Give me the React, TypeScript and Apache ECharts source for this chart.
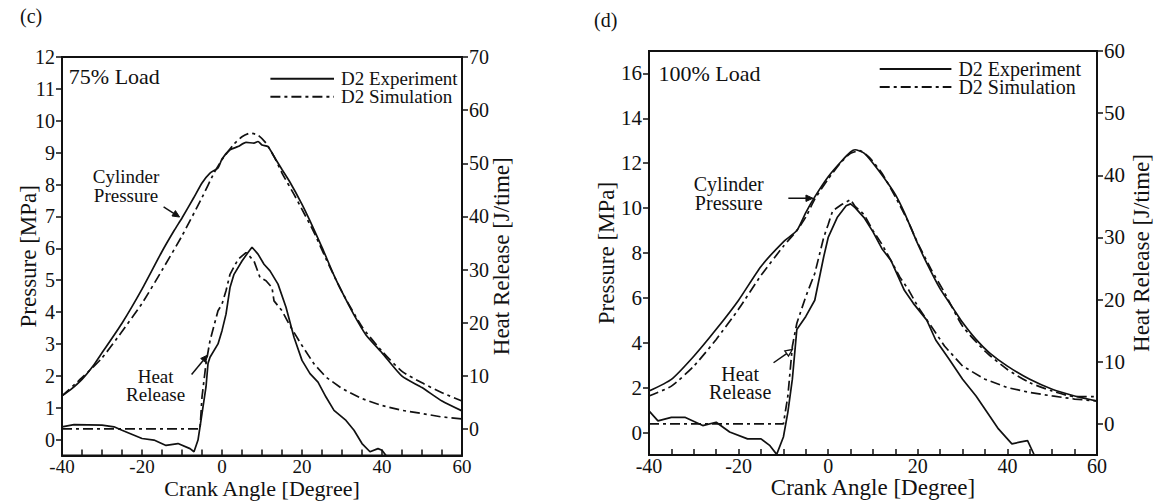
import React, { useEffect, useRef } from "react";
import * as echarts from "echarts";

// ---------- Data (crank angle [deg], value) ----------
// Panel (c) 75% Load — pressure [MPa] (left axis), heat release [J/time] (right axis)
const cPressureExp: number[][] = [
  [-40, 1.37], [-38, 1.55], [-35, 1.89], [-32, 2.35], [-30, 2.72], [-25, 3.65], [-20, 4.72],
  [-15, 5.9], [-12, 6.55], [-10, 6.95], [-7, 7.6], [-5, 8.05], [-3, 8.36], [-1, 8.52], [0, 8.8],
  [2, 9.09], [4, 9.19], [6, 9.32], [8, 9.3], [9, 9.35], [10, 9.24], [11.5, 9.19], [13, 8.88],
  [15, 8.47], [17, 8.07], [20, 7.38], [22, 6.86], [25, 6.03], [28, 5.15], [30, 4.63], [33, 3.91],
  [36, 3.28], [40, 2.72], [45, 1.99], [50, 1.63], [55, 1.21], [60, 0.9],
];
const cPressureSim: number[][] = [
  [-40, 1.37], [-35, 1.94], [-30, 2.56], [-25, 3.39], [-20, 4.27], [-15, 5.31], [-10, 6.39],
  [-5, 7.59], [-2, 8.36], [0, 8.78], [3, 9.27], [5, 9.5], [7, 9.61], [9, 9.55], [11, 9.3],
  [13, 8.88], [15, 8.36], [18, 7.69], [20, 7.22], [23, 6.5], [26, 5.67], [30, 4.63], [35, 3.54],
  [40, 2.77], [45, 2.14], [50, 1.78], [55, 1.47], [60, 1.21],
];
const cHeatExp: number[][] = [
  [-40, 0.4], [-37, 0.8], [-30, 0.7], [-27, 0.4], [-25, -0.25], [-20, -1.8], [-17, -2.1],
  [-14, -3.1], [-11, -2.75], [-8, -3.7], [-7, -4.3], [-6, -2.1], [-5, 2.9], [-4, 7.9],
  [-3.5, 12.3], [-3, 13.5], [-1, 16], [0, 18.5], [1, 21.6], [2, 26.6], [3, 29.1], [5, 31.6],
  [6.5, 33.2], [7.5, 34.2], [9, 32.9], [10.5, 31], [12, 29.75], [14, 27.25], [16, 22.9],
  [18, 17.25], [20, 12.9], [22, 10.4], [24, 8.8], [26, 6], [28, 3.5], [31, 1.6], [33, -0.25],
  [35, -2.75], [37, -4.3], [39, -3.7], [40, -4], [41, -5],
];
const cHeatSim: number[][] = [
  [-40, 0], [-5.5, 0], [-5, 6], [-4, 12.3], [-3, 16.6], [-1, 22.25], [0, 23.5], [1, 26],
  [2, 29.1], [4, 31.9], [6, 33.2], [8, 31.6], [9.5, 28.5], [11, 27.9], [12.5, 26.6], [13, 24.1],
  [15, 22.25], [17, 19.4], [20, 15.7], [23, 12.25], [26, 9.75], [30, 7.6], [35, 5.7], [40, 4.4],
  [45, 3.5], [50, 2.9], [55, 2.25], [60, 1.9],
];

// Panel (d) 100% Load
const dPressureExp: number[][] = [
  [-40, 1.85], [-35, 2.37], [-30, 3.4], [-25, 4.6], [-20, 5.9], [-15, 7.4], [-10, 8.5], [-7, 9.0],
  [-5, 9.8], [-3, 10.5], [0, 11.4], [3, 12.1], [5, 12.5], [6, 12.6], [8, 12.45], [10, 12.0],
  [13, 11.2], [15, 10.6], [17, 9.8], [20, 8.4], [22, 7.55], [25, 6.4], [28, 5.5], [30, 4.9],
  [33, 4.15], [36, 3.55], [40, 2.96], [45, 2.37], [50, 1.93], [55, 1.63], [60, 1.4],
];
const dPressureSim: number[][] = [
  [-40, 1.63], [-35, 2.07], [-30, 2.96], [-25, 4.15], [-20, 5.5], [-15, 7.0], [-10, 8.3],
  [-7, 9.0], [-5, 9.6], [-3, 10.4], [0, 11.3], [3, 12.07], [5, 12.44], [7, 12.56], [9, 12.3],
  [12, 11.55], [15, 10.5], [18, 9.33], [20, 8.44], [23, 7.26], [26, 6.22], [30, 4.74],
  [35, 3.63], [40, 2.81], [45, 2.22], [50, 1.85], [55, 1.6], [60, 1.6],
];
const dHeatExp: number[][] = [
  [-40, 2.1], [-38, 0.5], [-35, 1.06], [-32, 1.06], [-28, -0.27], [-25, 0.27], [-22, -1.3],
  [-18, -2.4], [-15, -2.4], [-13, -3.5], [-11.5, -4.9], [-10, -2.1], [-9, 1.9], [-8, 7.2],
  [-7, 15.2], [-5, 17.3], [-3, 19.9], [-1, 26.9], [0, 30.0], [2, 33.2], [4, 35.1], [5, 35.4],
  [6, 34.8], [8, 33.2], [10, 30.9], [12, 28.2], [14, 26.3], [15, 24.7], [17, 21.5], [19, 19.4],
  [22, 16.7], [24, 13.5], [27, 10.4], [30, 7.2], [33, 4.5], [36, 1.3], [38, -0.8], [41, -3.2],
  [43, -2.9], [44.5, -2.7], [46, -5],
];
const dHeatSim: number[][] = [
  [-40, 0], [-10, 0], [-9, 4.5], [-8, 12.5], [-7, 16.2], [-5, 20.5], [-3, 24.2], [-1, 30.0],
  [0, 32.1], [1, 34.3], [3, 35.3], [5, 36.1], [6, 35.0], [8, 33.7], [10, 31.1], [12, 28.9],
  [14, 26.3], [16, 23.6], [18, 21.5], [20, 18.9], [23, 15.7], [26, 12.5], [30, 9.3], [35, 7.2],
  [40, 5.85], [45, 5.05], [50, 4.5], [55, 4.0], [60, 3.7],
];

// Tick labels
const crankTicks = [-40, -20, 0, 20, 40, 60];
const cPressureTicks = [0, 1, 2, 3, 4, 5, 6, 7, 8, 9, 10, 11, 12];
const cHeatTicks = [0, 10, 20, 30, 40, 50, 60, 70];
const dPressureTicks = [0, 2, 4, 6, 8, 10, 12, 14, 16];
const dHeatTicks = [0, 10, 20, 30, 40, 50, 60];
const seriesNames = ["D2 Experiment", "D2 Simulation"];
const panelLabels = ["(c)", "(d)"];
const loadLabels = ["75% Load", "100% Load"];

const FONT = "Liberation Serif";
const INK = "#111";
const DASHDOT = [10, 4, 3, 4];

function makeXAxis(gridIndex: number, labelSize: number, nameSize: number): any {
  return {
    type: "value", gridIndex, min: -40, max: 60, interval: 5,
    axisLine: { show: true, onZero: false, lineStyle: { color: INK, width: 2 } },
    axisTick: { show: true, inside: true, length: 6, lineStyle: { color: INK, width: 1.5 } },
    axisLabel: {
      formatter: (v: number) => (crankTicks.indexOf(v) >= 0 ? String(v) : ""),
      fontFamily: FONT, fontSize: labelSize, color: INK, margin: 2, lineHeight: 17,
    },
    splitLine: { show: false },
    name: "Crank Angle [Degree]", nameLocation: "middle", nameGap: 23, nameMoveOverlap: false,
    nameTextStyle: { fontFamily: FONT, fontSize: nameSize, color: INK, lineHeight: 19 },
  };
}

function makeYAxis(gridIndex: number, position: string, min: number, max: number, ticks: number[],
  name: string, nameGap: number, labelSize: number): any {
  return {
    type: "value", gridIndex, position, min, max,
    axisLine: { show: true, onZero: false, lineStyle: { color: INK, width: 2 } },
    axisTick: { show: true, inside: false, length: 6, customValues: ticks, lineStyle: { color: INK, width: 1.5 } },
    axisLabel: { customValues: ticks, fontFamily: FONT, fontSize: labelSize, color: INK, margin: 7 },
    splitLine: { show: false },
    name, nameLocation: "middle", nameGap, nameMoveOverlap: false,
    nameTextStyle: { fontFamily: FONT, fontSize: 23, color: INK },
  };
}

function line(name: string, data: number[][], xi: number, yi: number, dashed: boolean, smooth: number | boolean): any {
  return {
    type: "line", name, data, xAxisIndex: xi, yAxisIndex: yi,
    symbol: "none", smooth, clip: true,
    lineStyle: { color: INK, width: 1.7, type: dashed ? DASHDOT : "solid" },
    itemStyle: { color: INK },
  };
}

export default function App() {
  const ref = useRef<HTMLDivElement>(null);
  useEffect(() => {
    document.body.style.margin = "0";
    const chart = echarts.init(ref.current!, null, { renderer: "svg" });
    const option: any = {
      animation: false,
      backgroundColor: "#fff",
      textStyle: { fontFamily: FONT },
      grid: [
        { left: 62, top: 57, width: 400, height: 402, show: true, borderColor: INK, borderWidth: 2, backgroundColor: "transparent" },
        { left: 649, top: 51, width: 448, height: 408, show: true, borderColor: INK, borderWidth: 2, backgroundColor: "transparent" },
      ],
      xAxis: [makeXAxis(0, 19, 22), makeXAxis(1, 20, 23)],
      yAxis: [
        makeYAxis(0, "left", -0.5, 12, cPressureTicks, "Pressure [MPa]", 22, 20),
        makeYAxis(0, "right", -5, 70, cHeatTicks, "Heat Release [J/time]", 28, 20),
        makeYAxis(1, "left", -1, 17, dPressureTicks, "Pressure [MPa]", 31, 21),
        makeYAxis(1, "right", -5, 60, dHeatTicks, "Heat Release [J/time]", 33, 21),
      ],
      series: [
        line(seriesNames[0], cPressureExp, 0, 0, false, 0.2),
        line(seriesNames[1], cPressureSim, 0, 0, true, 0.2),
        line(seriesNames[0], cHeatExp, 0, 1, false, false),
        line(seriesNames[1], cHeatSim, 0, 1, true, false),
        line(seriesNames[0], dPressureExp, 1, 2, false, 0.2),
        line(seriesNames[1], dPressureSim, 1, 2, true, 0.2),
        line(seriesNames[0], dHeatExp, 1, 3, false, false),
        line(seriesNames[1], dHeatSim, 1, 3, true, false),
      ],
    };
    chart.setOption(option);

    // Annotations anchored in data coordinates of each panel's pressure axis
    const px = (g: number, p: number[]) =>
      chart.convertToPixel({ xAxisIndex: g, yAxisIndex: g === 0 ? 0 : 2 } as any, p) as number[];

    const txt = (g: number, p: number[], text: string, size: number, lh: number, align = "center"): any => {
      const [x, y] = px(g, p);
      return {
        type: "text", x, y,
        style: { text, fontFamily: FONT, fontSize: size, lineHeight: lh, fill: INK, align, verticalAlign: "middle" },
      };
    };
    const arrow = (g: number, a: number[], b: number[], filled: boolean): any[] => {
      const [x1, y1] = px(g, a);
      const [x2, y2] = px(g, b);
      const ang = Math.atan2(y2 - y1, x2 - x1);
      const L = 7, W = 3.2;
      const bx = x2 - L * Math.cos(ang), by = y2 - L * Math.sin(ang);
      const ox = -Math.sin(ang) * W, oy = Math.cos(ang) * W;
      return [
        { type: "line", shape: { x1, y1, x2: bx, y2: by }, style: { stroke: INK, lineWidth: 1.5 } },
        {
          type: "polygon", shape: { points: [[x2, y2], [bx + ox, by + oy], [bx - ox, by - oy]] },
          style: filled ? { fill: INK, stroke: INK, lineWidth: 1 } : { fill: "#fff", stroke: INK, lineWidth: 1.3 },
        },
      ];
    };
    // Two-row legend: solid and dash-dot samples with a two-line text block
    const legend = (g: number, x1: number, x2: number, y1: number, y2: number, size: number): any[] => {
      const [a, ya] = px(g, [x1, y1]);
      const [b, yb] = px(g, [x2, y2]);
      return [
        { type: "line", shape: { x1: a, y1: ya, x2: b, y2: ya }, style: { stroke: INK, lineWidth: 2 } },
        { type: "line", shape: { x1: a, y1: yb, x2: b, y2: yb }, style: { stroke: INK, lineWidth: 2, lineDash: DASHDOT } },
        {
          type: "text", x: b + 7, y: (ya + yb) / 2,
          style: {
            text: seriesNames.join("\n"), fontFamily: FONT, fontSize: size, lineHeight: yb - ya,
            fill: INK, align: "left", verticalAlign: "middle",
          },
        },
      ];
    };

    const graphic: any[] = [
      { type: "text", x: 20, y: 16, style: { text: panelLabels[0], fontFamily: FONT, fontSize: 20, fill: INK, verticalAlign: "middle" } },
      { type: "text", x: 594, y: 20, style: { text: panelLabels[1], fontFamily: FONT, fontSize: 20, fill: INK, verticalAlign: "middle" } },
      // (c)
      txt(0, [-38.3, 11.4], loadLabels[0], 22, 22, "left"),
      ...legend(0, 12.1, 28, 11.32, 10.75, 19),
      txt(0, [-24.0, 7.95], "Cylinder\nPressure", 19, 19),
      ...arrow(0, [-14.6, 7.3], [-10.6, 6.98], true),
      txt(0, [-16.6, 1.7], "Heat\nRelease", 19, 18),
      ...arrow(0, [-7.6, 2.04], [-3.6, 2.65], true),
      // (d)
      txt(1, [-37.9, 16.0], loadLabels[1], 22, 22, "left"),
      ...legend(1, 11.5, 27.5, 16.2, 15.4, 20),
      txt(1, [-22.2, 10.63], "Cylinder\nPressure", 20, 19),
      ...arrow(1, [-8.9, 10.44], [-3.4, 10.44], true),
      txt(1, [-19.65, 2.19], "Heat\nRelease", 20, 18),
      ...arrow(1, [-12.2, 3.11], [-8.0, 3.7], false),
    ];
    chart.setOption({ graphic });
    return () => chart.dispose();
  }, []);
  return <div ref={ref} style={{ width: 1160, height: 504 }} />;
}
